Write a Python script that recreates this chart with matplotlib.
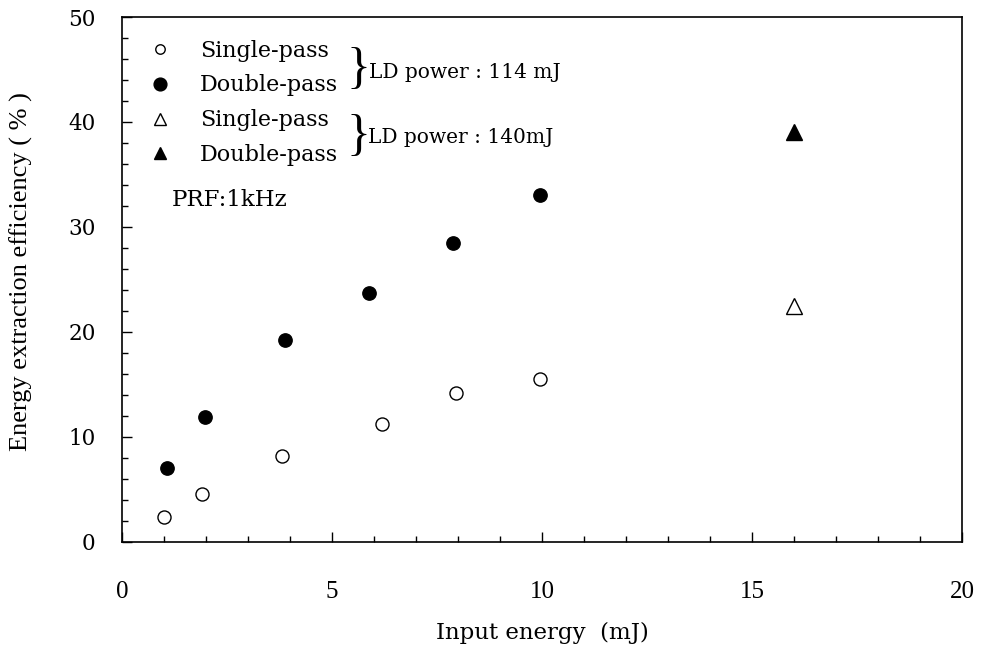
import numpy as np
import matplotlib
matplotlib.use('Agg')
import matplotlib.pyplot as plt
from matplotlib.lines import Line2D
from matplotlib.ticker import MultipleLocator

# data
x_sp114 = [1.0, 1.9, 3.8, 6.2, 7.95, 9.95]
y_sp114 = [2.4, 4.6, 8.2, 11.2, 14.2, 15.5]
x_dp114 = [1.07, 1.98, 3.87, 5.87, 7.87, 9.95]
y_dp114 = [7.0, 11.9, 19.2, 23.7, 28.5, 33.0]
x_sp140 = [16.0]
y_sp140 = [22.5]
x_dp140 = [16.0]
y_dp140 = [39.0]

labels = ['Single-pass', 'Double-pass', 'Single-pass', 'Double-pass']

plt.rcParams['font.family'] = ['DejaVu Serif']
times = ['Liberation Serif', 'DejaVu Serif']

fig = plt.figure(figsize=(9.81, 6.54), dpi=100)
ax = fig.add_axes([0.1244, 0.1713, 0.8563, 0.8027])

ax.plot(x_sp114, y_sp114, 'o', ms=9.4, mfc='white', mec='black', mew=1.0, ls='none')
ax.plot(x_dp114, y_dp114, 'o', ms=9.6, mfc='black', mec='black', ls='none')
ax.plot(x_sp140, y_sp140, '^', ms=11.5, mfc='white', mec='black', mew=1.0, ls='none')
ax.plot(x_dp140, y_dp140, '^', ms=11.5, mfc='black', mec='black', ls='none')

ax.set_xlim(0, 20)
ax.set_ylim(0, 50)
ax.xaxis.set_major_locator(MultipleLocator(5))
ax.xaxis.set_minor_locator(MultipleLocator(1))
ax.yaxis.set_major_locator(MultipleLocator(10))
ax.yaxis.set_minor_locator(MultipleLocator(2))
ax.tick_params(which='both', direction='in', top=False, right=False, width=1)
ax.tick_params(which='major', length=7)
ax.tick_params(which='minor', length=4)
ax.tick_params(axis='x', which='major', pad=28, labelsize=18,
               labelfontfamily='Liberation Serif')
ax.tick_params(axis='y', which='major', pad=19, labelsize=15.5)
for s in ax.spines.values():
    s.set_linewidth(1.2)

ax.set_xlabel('Input energy  (mJ)', fontsize=16.5, labelpad=14)
ax.set_ylabel('Energy extraction efficiency ( % )', fontsize=19, family=times)
ax.yaxis.set_label_coords(-0.106, 0.516)

handles = [
    Line2D([], [], marker='o', ls='none', ms=6.8, mfc='white', mec='black', mew=1.0),
    Line2D([], [], marker='o', ls='none', ms=9.2, mfc='black', mec='black'),
    Line2D([], [], marker='^', ls='none', ms=8.5, mfc='white', mec='black', mew=1.0),
    Line2D([], [], marker='^', ls='none', ms=8.5, mfc='black', mec='black'),
]
ax.legend(handles, labels, loc='upper left', bbox_to_anchor=(0.032, 0.957),
          frameon=False, fontsize=16, handletextpad=1.30, labelspacing=0.58,
          borderaxespad=0, borderpad=0, handlelength=1.0)

# braces grouping the legend rows by LD power
ax.text(0.267, 0.899, '}', transform=ax.transAxes, fontsize=36, family=times,
        va='center', ha='left')
ax.text(0.294, 0.895, 'LD power : 114 mJ', transform=ax.transAxes, fontsize=14.5, va='center')
ax.text(0.267, 0.772, '}', transform=ax.transAxes, fontsize=36, family=times,
        va='center', ha='left')
ax.text(0.293, 0.771, 'LD power : 140mJ', transform=ax.transAxes, fontsize=14.5, va='center')
ax.text(0.0595, 0.651, 'PRF:1kHz', transform=ax.transAxes, fontsize=16.5, va='center')

fig.savefig('out.png', dpi=100)
